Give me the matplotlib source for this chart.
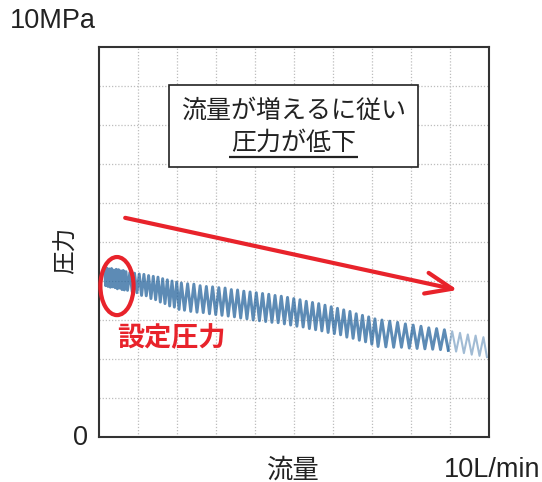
import matplotlib
matplotlib.use("Agg")
import matplotlib.pyplot as plt
from matplotlib.patches import Ellipse, Rectangle
import numpy as np

plt.rcParams['font.family'] = ['Noto Sans CJK JP', 'DejaVu Sans']

# flow (L/min) vs pressure (MPa), zigzag trace
flow = [0.15, 0.18, 0.21, 0.24, 0.27, 0.30, 0.33, 0.36, 0.39, 0.42,
        0.45, 0.48, 0.51, 0.54, 0.57, 0.60, 0.63, 0.66, 0.70, 0.74,
        0.80, 0.86, 0.92, 0.98, 1.04, 1.10, 1.16, 1.22, 1.28, 1.34,
        1.40, 1.46, 1.52, 1.58, 1.64, 1.70, 1.76, 1.82, 1.88, 1.94,
        2.00, 2.06,
        2.12, 2.20, 2.28, 2.36, 2.44, 2.52, 2.60, 2.68, 2.76, 2.84,
        2.92, 3.00, 3.08, 3.16, 3.24, 3.32, 3.40, 3.48, 3.56, 3.64,
        3.72, 3.80, 3.88, 3.96, 4.04, 4.12, 4.20, 4.28, 4.36, 4.44,
        4.52, 4.60,
        4.68, 4.76, 4.84, 4.92, 5.00, 5.08, 5.16, 5.24, 5.32, 5.40,
        5.48, 5.56, 5.64, 5.72, 5.80, 5.88, 5.96, 6.04, 6.12, 6.20,
        6.28, 6.36, 6.44, 6.52, 6.60, 6.68, 6.76, 6.84, 6.92, 7.00,
        7.08, 7.16,
        7.26, 7.36, 7.46, 7.56, 7.66, 7.76, 7.86, 7.96, 8.06, 8.16,
        8.26, 8.36, 8.46, 8.56, 8.66, 8.76, 8.86, 8.96, 9.06, 9.16,
        9.26, 9.36, 9.46, 9.56, 9.66, 9.76, 9.86, 9.95]
pressure = [4.30, 3.88, 4.33, 3.86, 4.31, 3.84, 4.32, 3.85, 4.28, 3.83,
            4.30, 3.80, 4.29, 3.82, 4.26, 3.78, 4.27, 3.77, 4.24, 3.76,
            4.22, 3.72, 4.20, 3.70, 4.18, 3.63, 4.17, 3.62, 4.14, 3.55,
            4.12, 3.52, 4.10, 3.46, 4.06, 3.42, 4.03, 3.36, 4.00, 3.33,
            3.97, 3.27,
            3.95, 3.25, 3.93, 3.22, 3.92, 3.20, 3.88, 3.19, 3.86, 3.16,
            3.85, 3.14, 3.83, 3.12, 3.82, 3.10, 3.78, 3.08, 3.77, 3.05,
            3.74, 3.03, 3.72, 3.00, 3.70, 2.98, 3.68, 2.96, 3.66, 2.94,
            3.63, 2.93,
            3.61, 2.90, 3.58, 2.87, 3.55, 2.84, 3.52, 2.82, 3.48, 2.78,
            3.45, 2.75, 3.42, 2.72, 3.38, 2.68, 3.34, 2.65, 3.30, 2.62,
            3.26, 2.56, 3.22, 2.53, 3.16, 2.48, 3.12, 2.44, 3.08, 2.38,
            3.03, 2.32,
            3.00, 2.31, 2.97, 2.30, 2.94, 2.30, 2.90, 2.28, 2.87, 2.27,
            2.84, 2.26, 2.80, 2.25, 2.78, 2.24, 2.75, 2.22, 2.71, 2.19,
            2.67, 2.15, 2.63, 2.11, 2.60, 2.08, 2.56, 2.05]

box_lines = ['流量が増えるに従い', '圧力が低下']
set_label = '設定圧力'
y_label = '圧力'
x_label = '流量'
y_max_label = '10MPa'
x_max_label = '10L/min'
zero_label = '0'

blue = '#1f5f99'
red = '#e8232b'

fig = plt.figure(figsize=(5.42, 4.82), dpi=100)
ax = fig.add_axes([0.182, 0.0934, 0.720, 0.809])
ax.set_xlim(0, 10)
ax.set_ylim(0, 10)
ax.set_xticks(range(1, 10))
ax.set_yticks(range(1, 10))
ax.tick_params(length=0, labelbottom=False, labelleft=False)
ax.grid(True, color='#bdbdbd', linestyle=(0, (1, 1.5)), linewidth=0.9)
for s in ax.spines.values():
    s.set_color('#333333')
    s.set_linewidth(1.5)

f = np.array(flow)
p = np.array(pressure)
cut = int(np.searchsorted(f, 8.9))
ax.plot(f[:cut + 1], p[:cut + 1], color=blue, lw=2.1, alpha=0.72, zorder=3)
ax.plot(f[cut:], p[cut:], color=blue, lw=1.5, alpha=0.42, zorder=3)

# text box
ax.add_patch(Rectangle((1.805, 6.92), 8.18 - 1.805, 9.03 - 6.92,
                       facecolor='white', edgecolor='#222222', lw=1.2, zorder=5))
ax.text(4.99, 8.38, box_lines[0], ha='center', va='center', fontsize=18,
        color='#222222', zorder=6)
ax.text(4.99, 7.54, box_lines[1], ha='center', va='center', fontsize=18,
        color='#222222', zorder=6)
ax.plot([3.34, 6.65], [7.18, 7.18], color='#222222', lw=1.6, zorder=6,
        solid_capstyle='butt')

# red arrow
ax.annotate('', xy=(9.2, 3.77), xytext=(0.68, 5.62),
            arrowprops=dict(arrowstyle='->,head_length=0.95,head_width=0.38',
                            color=red, lw=3.0, mutation_scale=20,
                            shrinkA=0, shrinkB=0), zorder=7)

# set pressure marker
ax.add_patch(Ellipse((0.47, 3.87), 0.85, 1.49, fill=False, edgecolor=red,
                     lw=3.0, zorder=7, clip_on=False))
ax.text(0.47, 2.54, set_label, ha='left', va='center', fontsize=19.5,
        fontweight='bold', color=red, zorder=7)

latin = ['Liberation Sans', 'Noto Sans CJK JP']
fig.text(10 / 542, 1 - 21 / 482, y_max_label, ha='left', va='center',
         fontsize=19.5, family=latin, color='#222222')
fig.text(88 / 542, 1 - 438 / 482, zero_label, ha='right', va='center',
         fontsize=19.5, family=latin, color='#222222')
fig.text(540 / 542, 1 - 470 / 482, x_max_label, ha='right', va='center',
         fontsize=19.5, family=latin, color='#222222')
fig.text(293 / 542, 1 - 470 / 482, x_label, ha='center', va='center',
         fontsize=19, color='#222222')
fig.text(66 / 542, 1 - 250 / 482, y_label, ha='center', va='center',
         fontsize=17, rotation=90, color='#222222')

fig.savefig('out.png', dpi=100)
